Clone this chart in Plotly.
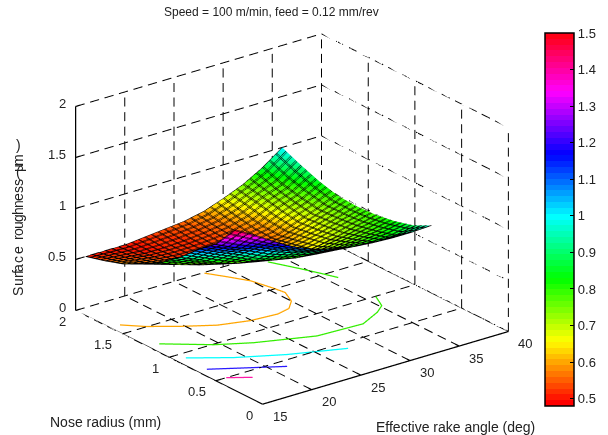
import plotly.graph_objects as go
import colorsys

W, H = 608, 435
rake = [16, 18, 20, 22, 24, 26, 28, 30, 32, 34, 36]
nose = [0.4, 0.6, 0.8, 1.0, 1.2, 1.4, 1.6, 1.8, 2.0]
rough = [
    [1.50, 1.39, 1.27, 1.16, 1.08, 1.03, 0.99, 0.97, 0.96, 0.96, 0.97],
    [1.27, 1.18, 1.11, 1.03, 0.96, 0.90, 0.86, 0.84, 0.83, 0.84, 0.88],
    [1.12, 1.03, 0.95, 0.85, 0.79, 0.75, 0.73, 0.74, 0.76, 0.79, 0.83],
    [0.95, 0.87, 0.78, 0.72, 0.68, 0.65, 0.64, 0.66, 0.70, 0.75, 0.80],
    [0.81, 0.73, 0.67, 0.62, 0.59, 0.58, 0.59, 0.62, 0.67, 0.73, 0.79],
    [0.70, 0.64, 0.59, 0.56, 0.54, 0.54, 0.55, 0.58, 0.65, 0.72, 0.80],
    [0.61, 0.57, 0.54, 0.52, 0.52, 0.53, 0.55, 0.59, 0.68, 0.75, 0.85],
    [0.55, 0.53, 0.51, 0.51, 0.52, 0.54, 0.57, 0.63, 0.72, 0.79, 0.92],
    [0.50, 0.50, 0.50, 0.52, 0.54, 0.56, 0.60, 0.67, 0.75, 0.86, 1.00],
]
# Floor contours: level, rake values, nose values
c06_rake = [16.0, 17.4, 19.7, 22.2, 24.9, 27.5, 28.9, 30.0, 30.7, 30.5, 30.0, 29.0, 28.0]
c06_nose = [1.63, 1.51, 1.37, 1.24, 1.17, 1.15, 1.18, 1.27, 1.41, 1.51, 1.70, 1.85, 1.99]
c08a_rake = [16.1, 19.5, 22.3, 27.2, 31.7, 34.1, 35.2, 36.0]
c08a_nose = [1.22, 0.99, 0.86, 0.70, 0.68, 0.78, 0.85, 1.00]
c08b_rake = [33.5, 34.7, 35.4, 36.0]
c08b_nose = [1.89, 1.67, 1.53, 1.40]
c10_rake = [16.0, 19.1, 22.9, 27.6]
c10_nose = [0.925, 0.74, 0.57, 0.41]
c12_rake = [15.9, 18.45, 21.4]
c12_nose = [0.69, 0.56, 0.41]
c14_rake = [16.06, 17.8]
c14_nose = [0.50, 0.40]
contour_sets = [
    (c06_rake, c06_nose, "#ffa500"),
    (c08a_rake, c08a_nose, "#33ee00"),
    (c08b_rake, c08b_nose, "#33ee00"),
    (c10_rake, c10_nose, "#00ffff"),
    (c12_rake, c12_nose, "#2a1aff"),
    (c14_rake, c14_nose, "#ff1aa8"),
]
rake_ticks = [15, 20, 25, 30, 35, 40]
nose_ticks = [0, 0.5, 1, 1.5, 2]
z_ticks = [0, 0.5, 1, 1.5, 2]
cbar_ticks = [0.5, 0.6, 0.7, 0.8, 0.9, 1, 1.1, 1.2, 1.3, 1.4, 1.5]
title = "Speed = 100 m/min, feed = 0.12 mm/rev"
x_label = "Effective rake angle (deg)"
y_label = "Nose radius (mm)"
z_letters = list("Surface") + list("roughness") + list("(µm)")
z_letter_y = [292, 282, 276, 272, 268, 260, 250,
              238, 232, 225, 218, 211, 204, 197, 190, 183,
              172, 168, 160, 145]

FONT = "Liberation Sans"
TXT = "#222222"
N = 64
colorscale = []
for i in range(N):
    r, g, b = colorsys.hsv_to_rgb(i / N, 1, 1)
    c = f"rgb({int(r*255)},{int(g*255)},{int(b*255)})"
    colorscale.append([i / N, c])
    colorscale.append([(i + 1) / N, c])

fig = go.Figure()


def seg(points):
    xs, ys, zs = [], [], []
    for a, b in points:
        xs += [a[0], b[0], None]
        ys += [a[1], b[1], None]
        zs += [a[2], b[2], None]
    return xs, ys, zs


def dashed(a, b, count):
    out = []
    for k in range(count):
        f0 = k / count
        f1 = (k + 0.62) / count
        p0 = tuple(a[i] + (b[i] - a[i]) * f0 for i in range(3))
        p1 = tuple(a[i] + (b[i] - a[i]) * f1 for i in range(3))
        out.append((p0, p1))
    return out


xa, xb = rake_ticks[0], rake_ticks[-1]
ya, yb = nose_ticks[0], nose_ticks[-1]
za, zb = z_ticks[0], z_ticks[-1]
DX, DY, DZ = 17, 14, 14  # dash counts along rake, nose and height
grid = []
for t in rake_ticks:
    grid += dashed((t, ya, za), (t, yb, za), DY)
    grid += dashed((t, yb, za), (t, yb, zb), DZ)
for t in nose_ticks:
    grid += dashed((xa, t, za), (xb, t, za), DX)
    grid += dashed((xb, t, za), (xb, t, zb), DZ)
for t in z_ticks:
    grid += dashed((xa, yb, t), (xb, yb, t), DX)
    grid += dashed((xb, yb, t), (xb, ya, t), DY)
gx, gy, gz = seg(grid)
fig.add_trace(go.Scatter3d(x=gx, y=gy, z=gz, mode="lines", hoverinfo="skip", showlegend=False,
                           line=dict(color="#000000", width=2)))
ax = [((xa, yb, za), (xa, ya, za)), ((xa, ya, za), (xb, ya, za)), ((xa, yb, za), (xa, yb, zb))]
ax += [((t, ya, za), (t, ya + 0.04, za)) for t in rake_ticks]
ax += [((xa, t, za), (xa + 0.5, t, za)) for t in nose_ticks]
ax += [((xa, yb, t), (xa + 0.5, yb, t)) for t in z_ticks]
sx, sy, sz = seg(ax)
fig.add_trace(go.Scatter3d(x=sx, y=sy, z=sz, mode="lines", hoverinfo="skip", showlegend=False,
                           line=dict(color="black", width=2.5)))
for cr, cn, col in contour_sets:
    fig.add_trace(go.Scatter3d(x=cr, y=cn, z=[0] * len(cr), mode="lines", hoverinfo="skip",
                               showlegend=False, line=dict(color=col, width=2.5)))

# The same surface twice: the second copy's mesh sits one pixel beside the first,
# which thickens the wireframe to about two pixels.
for shift_x, shift_y, show_bar in [(0, 0, True), (0.1, 0.012, False)]:
    fig.add_trace(go.Surface(
        x=rake, y=nose, z=rough,
        colorscale=colorscale, cmin=0.48, cmax=1.5, showscale=show_bar,
        lighting=dict(ambient=1, diffuse=0, specular=0, roughness=1, fresnel=0),
        hoverinfo="skip",
        contours=dict(
            x=dict(show=True, start=16 + shift_x, end=36 + shift_x, size=20 / 30, color="#000000", width=2),
            y=dict(show=True, start=0.4 + shift_y, end=2.0 + shift_y, size=1.6 / 30, color="#000000", width=2),
        ),
        colorbar=dict(
            x=545 / W, xanchor="left", thickness=29, thicknessmode="pixels",
            y=(H - 406) / H, yanchor="bottom", len=373 / H, lenmode="fraction",
            tickvals=cbar_ticks, ticktext=[f"{v:g}" for v in cbar_ticks],
            ticks="inside", ticklen=4, tickcolor="black", tickwidth=1,
            outlinecolor="black", outlinewidth=1.5, xpad=0, ypad=0,
            tickfont=dict(family=FONT, size=13, color=TXT),
        ),
    ))


def axis(rng, ticks):
    return dict(range=rng, tickvals=ticks, showticklabels=False,
                showgrid=False, zeroline=False, showline=False, showbackground=False,
                showspikes=False, ticks="", title=dict(text=""))


def tick_note(x, y, z, text, xanchor, xshift, yshift):
    return dict(x=x, y=y, z=z, text=text, showarrow=False, xanchor=xanchor, yanchor="middle",
                xshift=xshift, yshift=yshift, font=dict(family=FONT, size=13, color=TXT))


scene_notes = []
for t in rake_ticks:
    scene_notes.append(tick_note(t, ya, za, f"{t:g}", "center", 17, -12))
for t in nose_ticks:
    scene_notes.append(tick_note(xa, t, za, f"{t:g}", "right", -8, -11))
for t in z_ticks:
    scene_notes.append(tick_note(xa, yb, t, f"{t:g}", "right", -8, 3))


def paper_note(x, y, text, size=14, angle=0):
    return dict(text=text, x=x / W, y=1 - y / H, xref="paper", yref="paper", showarrow=False,
                xanchor="center", yanchor="middle", textangle=angle,
                font=dict(family=FONT, size=size, color=TXT))


S = 1.55
fig.update_layout(
    width=W, height=H, autosize=False,
    margin=dict(l=0, r=0, t=0, b=0),
    paper_bgcolor="white",
    showlegend=False,
    scene=dict(
        domain=dict(x=[12 / W, 572 / W], y=[(H - 419) / H, (H - 19) / H]),
        aspectmode="manual", aspectratio=dict(x=S, y=0.99 * S, z=0.713 * S),
        xaxis=axis([xa, xb], rake_ticks),
        yaxis=axis([ya, yb], nose_ticks),
        zaxis=axis([za, zb], z_ticks),
        annotations=scene_notes,
        camera=dict(projection=dict(type="orthographic"),
                    eye=dict(x=-0.562 * 3, y=-0.732 * 3, z=0.385 * 3),
                    up=dict(x=0, y=0, z=1), center=dict(x=0, y=0, z=0)),
    ),
    annotations=[
        paper_note(271, 12, title, 12),
        paper_note(106, 422, y_label),
        paper_note(455, 427, x_label),
    ] + [
        paper_note(18, yy, ch, 14, 0 if ch in "()" else -90)
        for ch, yy in zip(z_letters, z_letter_y)
    ],
)
fig.write_html("out.html", post_script="document.body.style.margin='0';",
               config=dict(displayModeBar=False))
